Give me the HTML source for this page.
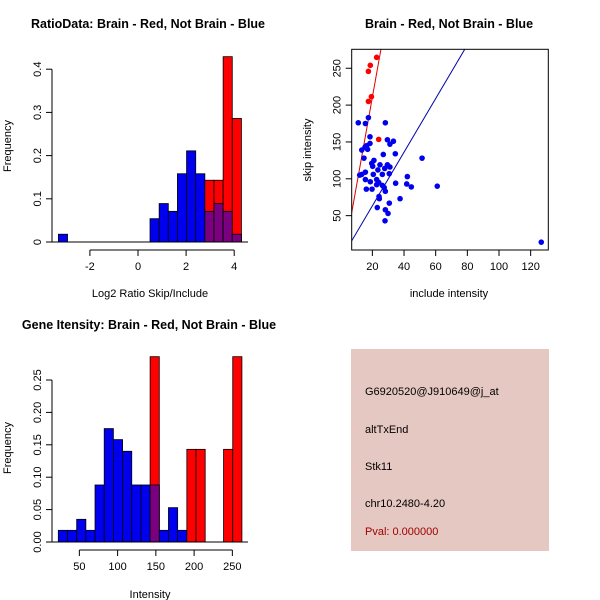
<!DOCTYPE html>
<html><head><meta charset="utf-8"><style>body{margin:0;background:#fff}svg{display:block;font-family:"Liberation Sans",sans-serif}</style></head>
<body>
<svg id="s" width="600" height="600">
<rect x="351" y="349" width="198" height="202" fill="#e6c8c2"/>
<g font-size="11">
<text x="365" y="395">G6920520@J910649@j_at</text>
<text x="365" y="433">altTxEnd</text>
<text x="365" y="470">Stk11</text>
<text x="365" y="507">chr10.2480-4.20</text>
<text x="365" y="535" fill="#a00000">Pval: 0.000000</text>
</g>
</svg>
<script>
// Panel 1: ratio histogram
const p1Start = 0.5, p1W = 0.38;
const p1Blue = [0.054,0.089,0.071,0.158,0.211,0.158,0.071,0.089,0.071,0.018];
const p1Red = [0,0,0,0,0,0,0.143,0.143,0.429,0.286];
const p1Outlier = {x:-3.31, v:0.018};
const p1XTicks = [-2,0,2,4];
const p1YTicks = [0.0,0.1,0.2,0.3,0.4];
// Panel 2: scatter
const redX = [22.7,18.7,17.5,19.4,17.5,24.0];
const redY = [264.8,254,245.8,211.4,205,153.5];
const blueX = [11.1,15.6,17.5,28.2,18.5,29.5,33.3,31.1,18.5,16.4,15.4,13.3,34.5,26.9,14.7,51.4,21.0,19.6,24.8,29.5,31.1,27.8,20.2,15.6,13.3,20.6,26.3,30.7,42.1,15.6,22.7,18.7,24.0,34.7,41.7,22.7,26.3,44.6,61.0,16.2,19.8,28.2,24.2,24.4,37.5,30.7,23.1,28.2,29.9,28.0,126.7,17.0,12.0,23.5,27.5];
const blueY = [176,175,183,176,157,153,151,147,148,145,143,139,134,133,128,128,125,121,119,119,116,114,117,109,106,106,106,107,103,99,99,96,95,94,93,92,91,89,90,86,86,83,76,73,73,67,61,58,53,43,14,140,105,112,88];
const redLine = {a:-29.3, b:12.0};
const blueLine = {a:-9.5, b:3.64};
const p2XTicks = [20,40,60,80,100,120];
const p2YTicks = [50,100,150,200,250];
// Panel 3: intensity histogram
const p3Start = 22.5, p3W = 12;
const p3Blue = [0.018,0.018,0.035,0.018,0.088,0.175,0.158,0.140,0.088,0.088,0.088,0.018,0.053,0.018,0,0,0,0,0,0];
const p3Red = [0,0,0,0,0,0,0,0,0,0,0.286,0,0,0,0.143,0.143,0,0,0.143,0.286];
const p3XTicks = [50,100,150,200,250];
const p3YTicks = ["0.00","0.05","0.10","0.15","0.20","0.25"];

const svg=document.getElementById('s');const NS='http://www.w3.org/2000/svg';
function mk(t,a,p){const e=document.createElementNS(NS,t);for(const k in a)e.setAttribute(k,a[k]);(p||svg).appendChild(e);return e;}
function txt(x,y,s,o){const e=mk('text',Object.assign({x:x,y:y,'font-size':11,'text-anchor':'middle'},o||{}));e.textContent=s;return e;}

function hist(sx,sy,start,w,blue,red,outl,xt,yt,baseX0,baseX1,axY,axX,names){
  const g=mk('g',{});
  
  
  function bar(x0,x1,v,fill,nm){const r=mk('rect',{x:sx(x0),y:sy(v),width:sx(x1)-sx(x0),height:sy(0)-sy(v),fill:fill,stroke:'#000','stroke-width':0.8},g);}
  if(outl)bar(outl.x,outl.x+w,outl.v,'#0000ee','bar-outlier');
  for(let i=0;i<blue.length;i++){const x0=start+i*w,x1=x0+w;
    if(blue[i]>0)bar(x0,x1,blue[i],'#0000ee','bar-blue-'+i);
    if(red[i]>0)bar(x0,x1,red[i],'#ff0000','bar-red-'+i);
    if(blue[i]>0&&red[i]>0)bar(x0,x1,Math.min(blue[i],red[i]),'#7a0080','bar-overlap-'+i);}
  mk('line',{x1:baseX0,x2:baseX1,y1:sy(0),y2:sy(0),stroke:'#000'},g);
  const yv=yt.map(Number);
  mk('line',{x1:axX,x2:axX,y1:sy(yv[0]),y2:sy(yv[yv.length-1]),stroke:'#000'},g);
  yt.forEach(t=>{const y=sy(+t);mk('line',{x1:axX-6,x2:axX,y1:y,y2:y,stroke:'#000'},g);txt(axX-11,y,String(t),{transform:`rotate(-90 ${axX-11} ${y})`});});
  mk('line',{x1:sx(xt[0]),x2:sx(xt[xt.length-1]),y1:axY,y2:axY,stroke:'#000'},g);
  xt.forEach(t=>{const x=sx(t);mk('line',{x1:x,x2:x,y1:axY,y2:axY+6,stroke:'#000'},g);txt(x,axY+20,String(t));});
  return g;
}
// panel1
const sx1=v=>138+24.05*v, sy1=v=>242-432*v;
hist(sx1,sy1,p1Start,p1W,p1Blue,p1Red,p1Outlier,p1XTicks,p1YTicks,48,248,250,52,'ratio');
txt(150,297,'Log2 Ratio Skip/Include');
txt(11,146,'Frequency',{transform:'rotate(-90 11 146)'});
txt(148,28,'RatioData: Brain - Red, Not Brain - Blue',{'font-weight':'bold','font-size':12.5});
// panel3
const sx3=v=>41.1+0.765*v, sy3=v=>542-648*v;
hist(sx3,sy3,p3Start,p3W,p3Blue,p3Red,null,p3XTicks,p3YTicks,48,248,550,52,'intensity');
txt(150,598,'Intensity');
txt(11,448,'Frequency',{transform:'rotate(-90 11 448)'});
txt(149,329,'Gene Itensity: Brain - Red, Not Brain - Blue',{'font-weight':'bold','font-size':12.5});
// panel2
const sx2=v=>340.7+1.583*v, sy2=v=>252.5-0.737*v;
const L=351.7,R=548.3,T=49.3,B=250;
const g2=mk('g',{});


const cr=mk('clipPath',{id:'cp'},g2);mk('rect',{x:L,y:T,width:R-L,height:B-T},cr);
const gl=mk('g',{'clip-path':'url(#cp)'},g2);
[[redLine,'#dd0000','red-fit-line'],[blueLine,'#0000aa','blue-fit-line']].forEach(([l,c,n])=>{const xa=0,xb=140;const e=mk('line',{x1:sx2(xa),y1:sy2(l.a+l.b*xa),x2:sx2(xb),y2:sy2(l.a+l.b*xb),stroke:c,'stroke-width':1},gl);});
blueX.forEach((x,i)=>{const c=mk('circle',{cx:sx2(x),cy:sy2(blueY[i]),r:2.8,fill:'#0000ee'},gl);});
redX.forEach((x,i)=>{const c=mk('circle',{cx:sx2(x),cy:sy2(redY[i]),r:2.8,fill:'#ff0000'},gl);});
mk('rect',{x:L,y:T,width:R-L,height:B-T,fill:'none',stroke:'#000'},g2);
p2XTicks.forEach(t=>{const x=sx2(t);mk('line',{x1:x,x2:x,y1:B,y2:B+6,stroke:'#000'},g2);txt(x,B+20,String(t));});
p2YTicks.forEach(t=>{const y=sy2(t);mk('line',{x1:L-6,x2:L,y1:y,y2:y,stroke:'#000'},g2);txt(L-11,y,String(t),{transform:`rotate(-90 ${L-11} ${y})`});});
txt(449,297,'include intensity');
txt(311,150,'skip intensity',{transform:'rotate(-90 311 150)'});
txt(449,28,'Brain - Red, Not Brain - Blue',{'font-weight':'bold','font-size':12.5});
</script>
</body></html>
